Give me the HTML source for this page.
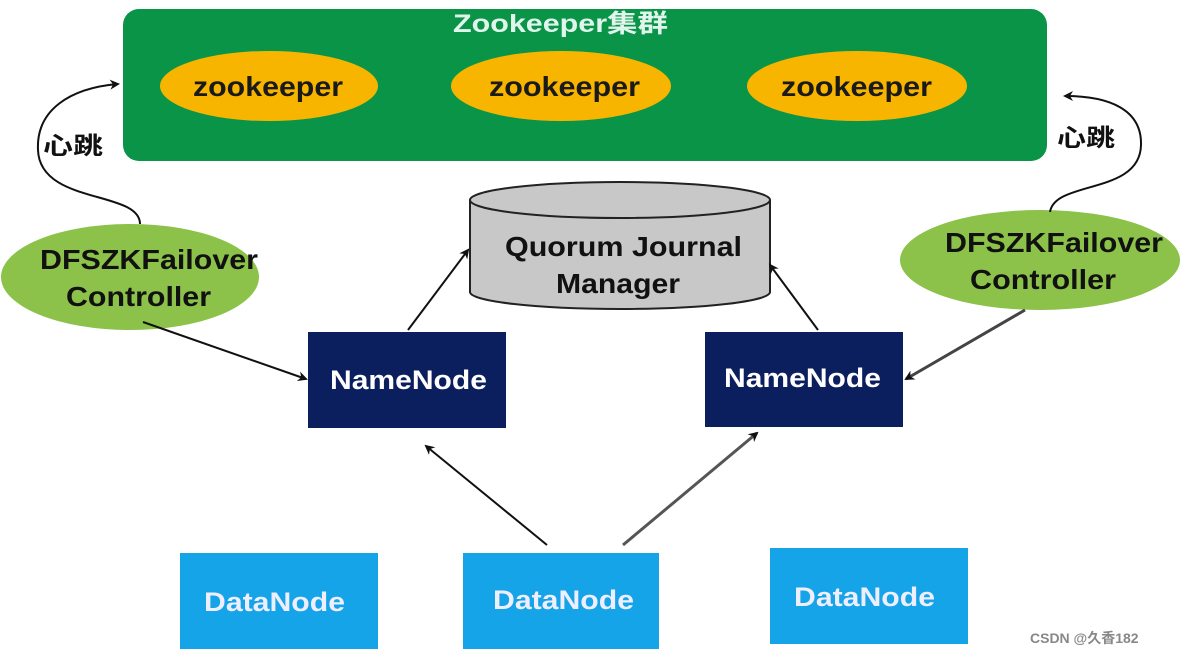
<!DOCTYPE html>
<html><head><meta charset="utf-8"><style>
html,body{margin:0;padding:0;background:#fff;}
svg{display:block;}
text{font-family:"Liberation Sans","Noto Sans CJK SC",sans-serif;font-weight:bold;}
</style></head><body>
<svg width="1183" height="655" viewBox="0 0 1183 655" xmlns="http://www.w3.org/2000/svg">
<defs>
<marker id="a" markerWidth="10" markerHeight="10" refX="8" refY="5" orient="auto" markerUnits="userSpaceOnUse">
<path d="M0,0 L10,5 L0,10 L3,5 Z" fill="#111"/></marker>
</defs>
<rect x="123" y="9" width="924" height="152" rx="16" fill="#0a9448"/>
<text x="453" y="32" font-size="25" fill="#e0f5ec" textLength="215" lengthAdjust="spacingAndGlyphs">Zookeeper集群</text>
<ellipse cx="269" cy="86" rx="109" ry="35" fill="#f8b500"/>
<ellipse cx="561" cy="86" rx="110" ry="35" fill="#f8b500"/>
<ellipse cx="857" cy="86" rx="110" ry="35" fill="#f8b500"/>
<text x="193" y="96" font-size="28" fill="#1a1a1a" textLength="150" lengthAdjust="spacingAndGlyphs">zookeeper</text>
<text x="489" y="96" font-size="28" fill="#1a1a1a" textLength="151" lengthAdjust="spacingAndGlyphs">zookeeper</text>
<text x="781" y="96" font-size="28" fill="#1a1a1a" textLength="151" lengthAdjust="spacingAndGlyphs">zookeeper</text>

<!-- cylinder -->
<path d="M470,200 L470,292 A150,17 0 0 0 770,292 L770,200" fill="#c8c8c8" stroke="#222" stroke-width="2"/>
<ellipse cx="620" cy="200" rx="150" ry="18" fill="#c8c8c8" stroke="#222" stroke-width="2"/>
<text x="505" y="256" font-size="28" fill="#111" textLength="237" lengthAdjust="spacingAndGlyphs">Quorum Journal</text>
<text x="556" y="293" font-size="28" fill="#111" textLength="124" lengthAdjust="spacingAndGlyphs">Manager</text>

<!-- DFSZK ellipses -->
<ellipse cx="130" cy="277" rx="129" ry="53" fill="#8cc24a"/>
<text x="40" y="269" font-size="28" fill="#111" textLength="218" lengthAdjust="spacingAndGlyphs">DFSZKFailover</text>
<text x="66" y="306" font-size="28" fill="#111" textLength="145" lengthAdjust="spacingAndGlyphs">Controller</text>
<ellipse cx="1040" cy="260" rx="140" ry="50" fill="#8cc24a"/>
<text x="945" y="252" font-size="28" fill="#111" textLength="218" lengthAdjust="spacingAndGlyphs">DFSZKFailover</text>
<text x="970" y="289" font-size="28" fill="#111" textLength="146" lengthAdjust="spacingAndGlyphs">Controller</text>

<!-- heartbeat curves -->
<path d="M140,224 C140,190 40,205 38,150 C36,110 70,88 118,84" fill="none" stroke="#111" stroke-width="2" marker-end="url(#a)"/>
<text x="43" y="154" font-size="24" font-weight="normal" fill="#111" textLength="60" lengthAdjust="spacingAndGlyphs">心跳</text>
<path d="M1050,212 C1055,180 1140,195 1141,145 C1142,110 1110,96 1065,96" fill="none" stroke="#111" stroke-width="2" marker-end="url(#a)"/>
<text x="1057" y="146" font-size="24" font-weight="normal" fill="#111" textLength="58" lengthAdjust="spacingAndGlyphs">心跳</text>

<!-- NameNodes -->
<rect x="308" y="332" width="198" height="96" fill="#0b1f5e"/>
<text x="330" y="389" font-size="27" fill="#fff" textLength="157" lengthAdjust="spacingAndGlyphs">NameNode</text>
<rect x="705" y="332" width="198" height="95" fill="#0b1f5e"/>
<text x="724" y="387" font-size="27" fill="#fff" textLength="157" lengthAdjust="spacingAndGlyphs">NameNode</text>

<!-- DataNodes -->
<rect x="180" y="553" width="198" height="96" fill="#15a4e8"/>
<text x="204" y="611" font-size="27" fill="#eef" textLength="141" lengthAdjust="spacingAndGlyphs">DataNode</text>
<rect x="463" y="553" width="196" height="96" fill="#15a4e8"/>
<text x="493" y="609" font-size="27" fill="#eef" textLength="141" lengthAdjust="spacingAndGlyphs">DataNode</text>
<rect x="770" y="548" width="198" height="96" fill="#15a4e8"/>
<text x="794" y="606" font-size="27" fill="#eef" textLength="141" lengthAdjust="spacingAndGlyphs">DataNode</text>

<!-- arrows -->
<line x1="143" y1="322" x2="306" y2="379" stroke="#111" stroke-width="2" marker-end="url(#a)"/>
<line x1="1025" y1="310" x2="906" y2="379" stroke="#444" stroke-width="3" marker-end="url(#a)"/>
<line x1="408" y1="330" x2="468" y2="250" stroke="#111" stroke-width="2" marker-end="url(#a)"/>
<line x1="818" y1="330" x2="770" y2="265" stroke="#111" stroke-width="2" marker-end="url(#a)"/>
<line x1="547" y1="545" x2="426" y2="446" stroke="#111" stroke-width="2" marker-end="url(#a)"/>
<line x1="623" y1="545" x2="757" y2="433" stroke="#555" stroke-width="3" marker-end="url(#a)"/>

<text x="1030" y="643" font-size="14" font-weight="normal" fill="#888">CSDN @久香182</text>
</svg>
</body></html>
